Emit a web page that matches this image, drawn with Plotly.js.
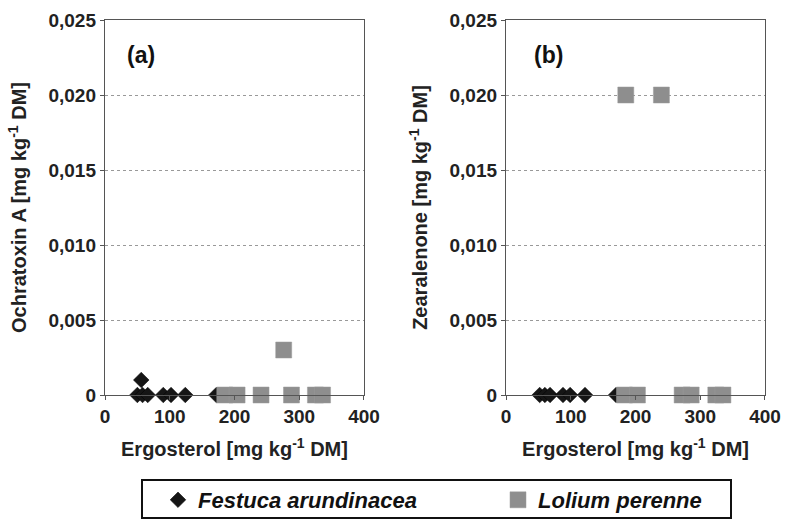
<!DOCTYPE html>
<html>
<head>
<meta charset="utf-8">
<script src="https://cdn.plot.ly/plotly-3.0.1.min.js"></script>
<style>html,body{margin:0;padding:0;background:#fff;}#chart{width:785px;height:520px;}</style>
</head>
<body>
<div id="chart"></div>
<script>
// Panel (a): Ochratoxin A vs Ergosterol
var festucaA_x = [50, 56, 58, 66, 90, 102, 124, 172];
var festucaA_y = [0, 0.001, 0, 0, 0, 0, 0, 0];
var loliumA_x = [185, 204, 241, 276, 288, 325, 336];
var loliumA_y = [0, 0, 0, 0.003, 0, 0, 0];
// Panel (b): Zearalenone vs Ergosterol
var festucaB_x = [52, 60, 68, 88, 99, 122, 170];
var festucaB_y = [0, 0, 0, 0, 0, 0, 0];
var loliumB_x = [183, 185, 203, 240, 272, 286, 324, 335];
var loliumB_y = [0, 0.02, 0, 0.02, 0, 0, 0, 0];

var seriesNames = ['Festuca arundinacea', 'Lolium perenne'];
var xTickVals = [0, 100, 200, 300, 400];
var xTickText = ['0', '100', '200', '300', '400'];
var yTickVals = [0, 0.005, 0.010, 0.015, 0.020, 0.025];
var yTickText = ['0', '0,005', '0,010', '0,015', '0,020', '0,025'];
var panelLabels = ['(a)', '(b)'];
var xTitle = 'Ergosterol [mg kg<sup>-1</sup> DM]';
var yTitles = ['Ochratoxin A [mg kg<sup>-1</sup> DM]', 'Zearalenone [mg kg<sup>-1</sup> DM]'];

var FONT = 'Liberation Sans, Arial, Helvetica, sans-serif';
var diamondMarker = {symbol: 'diamond', size: 12, color: '#151515', line: {width: 0.5, color: '#000'}};
var squareMarker = {symbol: 'square', size: 16, color: '#8e8e8e', line: {width: 0.5, color: '#9a9a9a'}};

var traces = [
  {x: festucaA_x, y: festucaA_y, type: 'scatter', mode: 'markers', name: seriesNames[0], marker: diamondMarker, xaxis: 'x', yaxis: 'y', cliponaxis: false, legend: 'legend'},
  {x: loliumA_x, y: loliumA_y, type: 'scatter', mode: 'markers', name: seriesNames[1], marker: squareMarker, xaxis: 'x', yaxis: 'y', cliponaxis: false, legend: 'legend2'},
  {x: festucaB_x, y: festucaB_y, type: 'scatter', mode: 'markers', name: seriesNames[0], marker: diamondMarker, xaxis: 'x2', yaxis: 'y2', cliponaxis: false, showlegend: false},
  {x: loliumB_x, y: loliumB_y, type: 'scatter', mode: 'markers', name: seriesNames[1], marker: squareMarker, xaxis: 'x2', yaxis: 'y2', cliponaxis: false, showlegend: false}
];

function xAxis(domain, anchor) {
  return {
    domain: domain, anchor: anchor, range: [0, 400], tickvals: xTickVals, ticktext: xTickText,
    showgrid: false, zeroline: false, showline: true, mirror: true, linecolor: '#555', linewidth: 1.2,
    ticks: 'outside', ticklen: 4, tickcolor: '#555',
    tickfont: {family: FONT, size: 19, color: '#222', weight: 'bold'},
    title: {text: xTitle, font: {family: FONT, size: 20, color: '#222', weight: 'bold'}, standoff: 16}
  };
}
function yAxis(anchor, title) {
  return {
    anchor: anchor, domain: [0, 1], range: [0, 0.025], tickvals: yTickVals, ticktext: yTickText,
    showgrid: true, gridcolor: '#999', griddash: 'dot', gridwidth: 1,
    zeroline: false, showline: true, mirror: true, linecolor: '#555', linewidth: 1.2,
    ticks: 'outside', ticklen: 4, tickcolor: '#555',
    tickfont: {family: FONT, size: 19, color: '#222', weight: 'bold'},
    title: {text: title, font: {family: FONT, size: 20, color: '#222', weight: 'bold'}, standoff: 16}
  };
}

function legendAt(px) {
  return {
    orientation: 'h', xref: 'container', yref: 'container',
    x: px / 785, xanchor: 'left', y: 1 - 500 / 520, yanchor: 'middle',
    bgcolor: 'rgba(0,0,0,0)', borderwidth: 0,
    font: {family: FONT, size: 22, color: '#111', weight: 'bold', style: 'italic'}
  };
}

var layout = {
  width: 785, height: 520,
  margin: {l: 105, r: 20, t: 20, b: 125, autoexpand: false},
  paper_bgcolor: '#fff', plot_bgcolor: '#fff',
  xaxis: xAxis([0, 0.3924], 'y'),
  yaxis: yAxis('x', yTitles[0]),
  xaxis2: xAxis([0.6076, 1], 'y2'),
  yaxis2: yAxis('x2', yTitles[1]),
  showlegend: true,
  legend: legendAt(158),
  legend2: legendAt(498),
  shapes: [
    {type: 'rect', xref: 'paper', yref: 'paper', x0: (142 - 105) / 660, x1: (731 - 105) / 660,
     y0: (395 - 518) / 375, y1: (395 - 480) / 375,
     line: {color: '#111', width: 2}, fillcolor: 'rgba(0,0,0,0)'}
  ],
  annotations: [
    {text: panelLabels[0], xref: 'paper', yref: 'paper', x: (141 - 105) / 660, y: (395 - 55) / 375,
     xanchor: 'center', yanchor: 'middle', showarrow: false,
     font: {family: FONT, size: 23, color: '#111', weight: 'bold'}},
    {text: panelLabels[1], xref: 'paper', yref: 'paper', x: (548 - 105) / 660, y: (395 - 55) / 375,
     xanchor: 'center', yanchor: 'middle', showarrow: false,
     font: {family: FONT, size: 23, color: '#111', weight: 'bold'}}
  ]
};

Plotly.newPlot('chart', traces, layout, {displayModeBar: false, staticPlot: true});
</script>
</body>
</html>
